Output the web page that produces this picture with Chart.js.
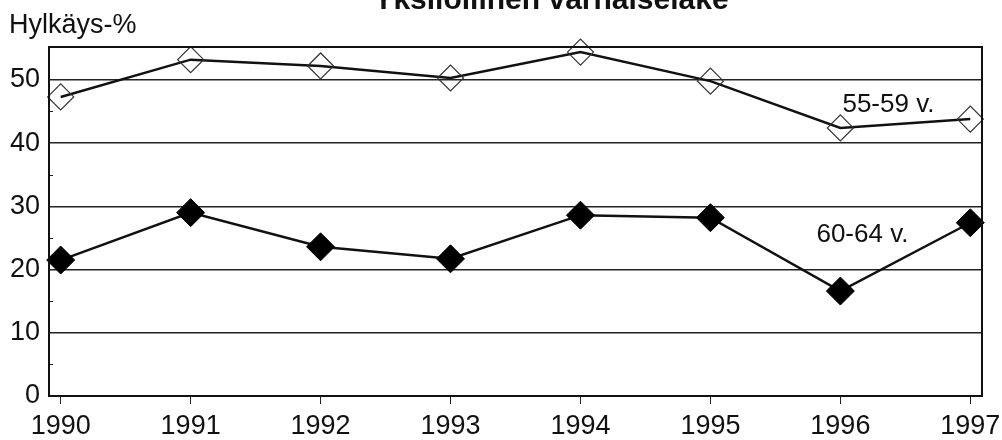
<!DOCTYPE html>
<html>
<head>
<meta charset="utf-8">
<script src="https://cdn.jsdelivr.net/npm/chart.js@4.4.1/dist/chart.umd.min.js"></script>
<style>
html,body{margin:0;padding:0;background:#fff;}
#wrap{width:1002px;height:440px;position:relative;}
</style>
</head>
<body>
<div id="wrap"><canvas id="c" width="1002" height="440"></canvas></div>
<script>
const years = [1990, 1991, 1992, 1993, 1994, 1995, 1996, 1997];
const age5559 = [47.3, 53.2, 52.2, 50.3, 54.4, 49.8, 42.4, 43.8];
const age6064 = [21.5, 29.0, 23.6, 21.7, 28.6, 28.2, 16.6, 27.4];
const yTicks = [0, 5, 10, 15, 20, 25, 30, 35, 40, 45, 50];
const titleText = 'Yksilöllinen varhaiseläke';
const yAxisTitle = 'Hylkäys-%';
const seriesLabels = ['55-59 v.', '60-64 v.'];
const labelPos = [[1996.37, 44.9], [1996.17, 24.4]];

const FONT = '"Liberation Sans", Arial, sans-serif';

const decor = {
  id: 'decor',
  afterDraw(chart) {
    const ctx = chart.ctx;
    const a = chart.chartArea;
    const xs = chart.scales.x, ys = chart.scales.y;
    ctx.save();
    ctx.strokeStyle = '#222';
    ctx.lineWidth = 1;
    yTicks.forEach(v => {
      if (v % 10 !== 0) {
        const y = Math.round(ys.getPixelForValue(v)) + 0.5;
        ctx.beginPath(); ctx.moveTo(a.left, y); ctx.lineTo(a.left + 4, y); ctx.stroke();
      }
    });
    ctx.strokeStyle = '#111';
    ctx.lineWidth = 2;
    ctx.strokeRect(a.left, a.top, a.right - a.left, a.bottom - a.top);
    ctx.fillStyle = '#111';
    ctx.font = 'bold 30px ' + FONT;
    ctx.textAlign = 'center';
    ctx.textBaseline = 'alphabetic';
    ctx.fillText(titleText, 551, 9);
    ctx.font = '27px ' + FONT;
    ctx.textAlign = 'left';
    ctx.fillText(yAxisTitle, 9, 33);
    ctx.font = '26px ' + FONT;
    ctx.textAlign = 'center';
    seriesLabels.forEach((t, i) => {
      ctx.fillText(t, xs.getPixelForValue(labelPos[i][0]), ys.getPixelForValue(labelPos[i][1]));
    });
    ctx.restore();
  }
};

new Chart(document.getElementById('c'), {
  type: 'line',
  data: {
    datasets: [
      {
        label: seriesLabels[0],
        data: years.map((y, i) => ({x: y, y: age5559[i]})),
        borderColor: '#111',
        borderWidth: 2.5,
        pointStyle: 'rectRot',
        pointRadius: 13,
        pointBorderWidth: 1.2,
        pointBorderColor: '#333',
        pointBackgroundColor: 'rgba(0,0,0,0)',
        tension: 0
      },
      {
        label: seriesLabels[1],
        data: years.map((y, i) => ({x: y, y: age6064[i]})),
        borderColor: '#111',
        borderWidth: 2.5,
        pointStyle: 'rectRot',
        pointRadius: 14,
        pointBorderWidth: 1,
        pointBorderColor: '#000',
        pointBackgroundColor: '#000',
        tension: 0
      }
    ]
  },
  options: {
    responsive: false,
    animation: false,
    devicePixelRatio: 1,
    clip: false,
    layout: { padding: { top: 47, right: 20, left: 0, bottom: 0 } },
    plugins: { legend: { display: false }, tooltip: { enabled: false }, title: { display: false } },
    scales: {
      x: {
        type: 'linear',
        min: 1989.91,
        max: 1997.09,
        afterBuildTicks(s) { s.ticks = years.map(v => ({value: v})); },
        afterFit(s) { s.height = 44; s.paddingLeft = 0; s.paddingRight = 0; },
        border: { display: false },
        grid: { drawOnChartArea: false, drawTicks: true, tickLength: 8, color: '#222', lineWidth: 1 },
        ticks: {
          color: '#111',
          font: { family: FONT, size: 27 },
          padding: 6,
          maxRotation: 0,
          autoSkip: false,
          callback: v => String(v)
        }
      },
      y: {
        min: 0,
        max: 55.2,
        afterBuildTicks(s) { s.ticks = yTicks.map(v => ({value: v})); },
        afterFit(s) { s.width = 49; s.paddingTop = 0; s.paddingBottom = 0; },
        border: { display: false },
        grid: {
          drawTicks: false,
          color: ctx => (ctx.tick && ctx.tick.value % 10 === 0) ? '#222' : 'rgba(0,0,0,0)',
          lineWidth: 1.5
        },
        ticks: {
          color: '#111',
          font: { family: FONT, size: 27 },
          padding: 9,
          autoSkip: false,
          callback: v => (v % 10 === 0 ? String(v) : '')
        }
      }
    }
  },
  plugins: [decor]
});
</script>
</body>
</html>
